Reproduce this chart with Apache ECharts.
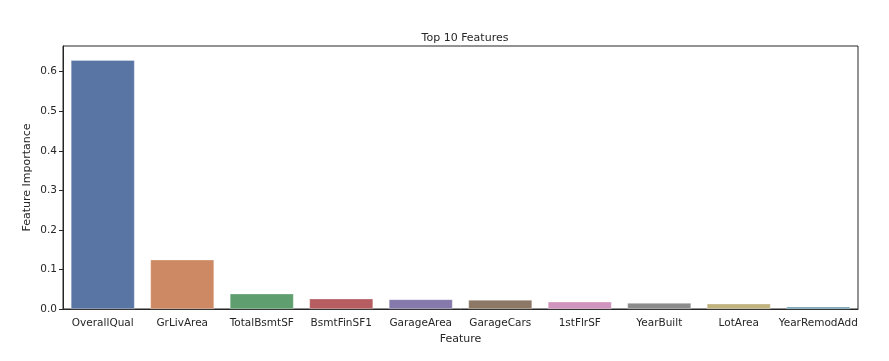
<!DOCTYPE html>
<html>
<head>
<meta charset="utf-8">
<script src="https://cdn.jsdelivr.net/npm/echarts@6/dist/echarts.min.js"></script>
<style>html,body{margin:0;padding:0;background:#fff;}#c{width:889px;height:361px;}</style>
</head>
<body>
<div id="c"></div>
<script>
const categories = ["OverallQual","GrLivArea","TotalBsmtSF","BsmtFinSF1","GarageArea","GarageCars","1stFlrSF","YearBuilt","LotArea","YearRemodAdd"];
const importance = [0.629, 0.1245, 0.0386, 0.026, 0.0243, 0.0227, 0.0184, 0.015, 0.0134, 0.0058];
const colors = ["#5975a4","#cc8963","#5f9e6e","#b55d60","#857aab","#8d7866","#d095bf","#8c8c8c","#c1b37f","#6d9eb4"];
const titleText = "Top 10 Features";
const xName = "Feature";
const yName = "Feature Importance";

const chart = echarts.init(document.getElementById('c'), null, {renderer:'canvas'});
const font = "DejaVu Sans";
chart.setOption({
  animation: false,
  backgroundColor: '#fff',
  title: {text: titleText, left: 460, top: 28, textAlign: 'center',
    textStyle: {fontFamily: font, fontSize: 11, fontWeight: 'normal', color: '#262626'}},
  grid: {left: 63, right: 31, top: 46, bottom: 52, show: true, borderColor: '#262626', borderWidth: 1, backgroundColor: 'transparent'},
  xAxis: {
    type: 'category', data: categories, name: xName, nameLocation: 'middle', nameGap: 22,
    nameTextStyle: {fontFamily: font, fontSize: 11, color: '#262626'},
    axisLine: {lineStyle: {color: '#262626', width: 1}},
    axisTick: {alignWithLabel: true, length: 4, lineStyle: {color: '#262626'}},
    axisLabel: {fontFamily: font, fontSize: 10.5, color: '#262626', margin: 9, interval: 0},
    splitLine: {show: false}
  },
  yAxis: {
    type: 'value', min: 0, max: 0.665, interval: 0.1, name: yName, nameLocation: 'middle', nameGap: 30,
    nameMoveOverlap: false,
    nameTextStyle: {fontFamily: font, fontSize: 11, color: '#262626'},
    axisLine: {show: true, lineStyle: {color: '#262626', width: 1}},
    axisTick: {show: true, length: 4, lineStyle: {color: '#262626'}},
    axisLabel: {fontFamily: font, fontSize: 10.5, color: '#262626', margin: 6, showMaxLabel: false,
      formatter: v => v.toFixed(1)},
    splitLine: {show: false}
  },
  series: [{
    type: 'bar', barWidth: '80%',
    data: importance.map((v, i) => ({value: v, itemStyle: {color: colors[i], borderColor: 'rgba(255,255,255,0.6)', borderWidth: 0.5}})),
  }]
});
</script>
</body>
</html>
